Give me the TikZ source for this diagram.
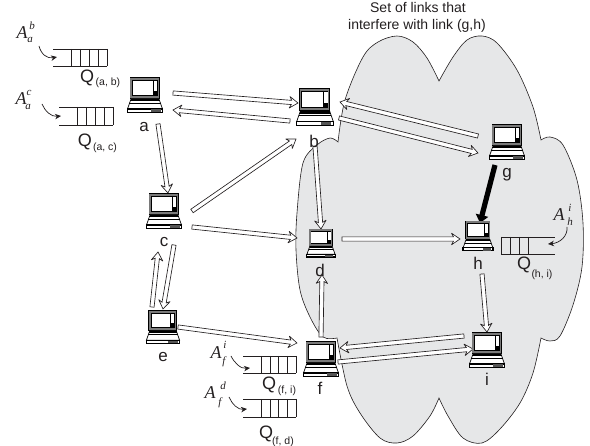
\documentclass[tikz,border=0pt]{standalone}
\usepackage{fontspec}
\setmainfont{Liberation Sans}
\newfontfamily\serifit{Liberation Serif}[ItalicFont=Liberation Serif Italic]
\usetikzlibrary{calc,arrows.meta}
\definecolor{cloudgray}{HTML}{E6E7E8}
\definecolor{framegray}{HTML}{7A7A7A}
\definecolor{inkdark}{HTML}{231F20}
\tikzset{
  x=1pt,y=-1pt,
  nodelabel/.style={inner sep=0pt,font=\fontsize{17}{17}\selectfont,text=inkdark},
  qlabel/.style={inner sep=0pt,font=\fontsize{18}{18}\selectfont,text=inkdark},
  qsub/.style={inner sep=0pt,font=\fontsize{10.5}{11}\selectfont,text=inkdark},
  caption/.style={inner sep=0pt,font=\fontsize{14}{14}\selectfont,text=inkdark},
  aletter/.style={inner sep=0pt,font=\fontsize{18}{18}\serifit\itshape,text=inkdark},
  aidx/.style={inner sep=0pt,font=\fontsize{11}{11}\serifit\itshape,text=inkdark},
  hollowarrow/.style={draw=inkdark,fill=white,line width=.65pt,line join=miter,miter limit=3},
  thickarrow/.style={draw=black,line width=5.2pt,-{Triangle[length=8pt,width=12.5pt]}},
  curvearrow/.style={draw=inkdark,line width=.7pt,-{Stealth[length=6pt,width=5.5pt]}},
  queueline/.style={draw=inkdark,line width=.7pt},
  laptopbox/.style={inner sep=0pt,minimum width=36pt,minimum height=36pt},
  laptop/.pic={
    \fill[black] (-15.5,-18) rectangle (14.5,4);
    \fill[framegray] (-14.7,-17.2) rectangle (13.7,3.2);
    \fill[black] (-13,-15) rectangle (12.8,1);
    \fill[white] (-12,-14) rectangle (7.5,0);
    \fill[white] (8.7,-14) rectangle (12,-4);
    \fill[framegray] (-14.7,2) -- (13.7,2) -- (13.7,3.2) -- (-14.7,3.2) -- cycle;
    \draw[black,line width=.7pt,fill=white] (-14,4) -- (14,4) -- (17.5,14) -- (-17.5,14) -- cycle;
    \fill[black] (-14.3,4) rectangle (14.3,6.3);
    \draw[black,line width=.6pt] (-15.6,8.2) -- (15.6,8.2);
    \draw[black,line width=1.1pt,fill=white] (-17.7,14) rectangle (17.7,17.5);
    \fill[framegray!70!black] (5.5,14.4) rectangle (15.5,17.2);
  }
}
% hollow arrow between two named coordinates
\newcommand{\harrow}[2]{%
  \coordinate (hn) at ($(#2)!6.5pt!(#1)$);
  \coordinate (hb) at ($(#2)!8.5pt!(#1)$);
  \path[hollowarrow]
    ($(#1)!2.1pt!90:(#2)$) -- ($(hn)!2.1pt!90:(#2)$) -- ($(hb)!5.8pt!90:(#2)$) -- (#2)
    -- ($(hb)!5.8pt!-90:(#2)$) -- ($(hn)!2.1pt!-90:(#2)$) -- ($(#1)!2.1pt!-90:(#2)$) -- cycle;
}
% queue: left x, right x, top y, bottom y, list of cell walls
\newcommand{\queuebox}[5]{%
  \draw[queueline] (#1,#3) -- (#2,#3) (#1,#4) -- (#2,#4);
  \foreach \qx in {#5} {\draw[queueline] (\qx,#3) -- (\qx,#4);}
}
\begin{document}
\begin{tikzpicture}
\useasboundingbox (0,0) rectangle (590,446);
% interference region
\draw[fill=cloudgray,draw=inkdark,line width=.6pt]
  plot[smooth,tension=.55] coordinates {(338,142) (345,100) (363,57) (378,42) (397,36) (413,42) (427,58) (439,81)}
  -- plot[smooth,tension=.55] coordinates {(439,81) (453,57) (467,40) (482,36) (497,43) (517,70) (533,107) (541,140)}
  -- plot[smooth,tension=.55] coordinates {(541,140) (550,137) (563,145) (577,180) (583,223) (582,267) (573,305) (560,336) (550,341) (541,338)}
  -- plot[smooth,tension=.55] coordinates {(541,338) (533,373) (520,403) (500,429) (482,443) (463,438) (448,416) (439,398)}
  -- plot[smooth,tension=.55] coordinates {(439,398) (430,416) (413,436) (397,443) (380,438) (360,413) (347,386) (337,338)}
  -- plot[smooth,tension=.55] coordinates {(337,338) (323,337) (310,317) (300,290) (296,250) (297,213) (303,163) (317,145) (330,138) (338,142)}
  -- cycle;
% computers
\foreach \nm/\px/\py/\sc in {a/145/95/1, b/315/107/1.05, c/164/211/1, d/321/243/.8, e/163/327/.95, f/321/359/1, g/507/142/1, h/478/236/.85, i/487/350/1}{
  \node[laptopbox,scale=\sc] (\nm) at (\px,\py) {};
}
% connector ends
\coordinate (s1) at (173,93);  \coordinate (t1) at (298,103);
\coordinate (s2) at (290,121); \coordinate (t2) at (173,110);
\coordinate (s3) at (158,124); \coordinate (t3) at (168,193);
\coordinate (s4) at (192,211); \coordinate (t4) at (296,139);
\coordinate (s5) at (192,227); \coordinate (t5) at (297,238);
\coordinate (s6) at (315,146); \coordinate (t6) at (321,229);
\coordinate (s7) at (321,337); \coordinate (t7) at (322,275);
\coordinate (s8) at (342,239); \coordinate (t8) at (460,239);
\coordinate (s9) at (152,307); \coordinate (t9) at (158,252);
\coordinate (s10) at (174,245); \coordinate (t10) at (163,309);
\coordinate (s11) at (178,327); \coordinate (t11) at (297,343);
\coordinate (s12) at (339,118); \coordinate (t12) at (478,153);
\coordinate (s13) at (478,136); \coordinate (t13) at (340,102);
\coordinate (s14) at (482,274); \coordinate (t14) at (487,332);
\coordinate (s15) at (464,336); \coordinate (t15) at (340,348);
\coordinate (s16) at (338,362); \coordinate (t16) at (473,349);
\coordinate (s17) at (495,165); \coordinate (t17) at (480,223);
\foreach \k in {1,...,16}{\harrow{s\k}{t\k}}
\draw[thickarrow] (s17) -- (t17);
\foreach \nm/\px/\py/\sc in {a/145/95/1, b/315/107/1.05, c/164/211/1, d/321/243/.8, e/163/327/.95, f/321/359/1, g/507/142/1, h/478/236/.85, i/487/350/1}{
  \pic[scale=\sc] at (\nm) {laptop};
}
% computer names
\node[nodelabel] (la) at (144,127) {a};
\node[nodelabel] (lb) at (314,141) {b};
\node[nodelabel] (lc) at (164,242) {c};
\node[nodelabel] (ld) at (320,270) {d};
\node[nodelabel] (le) at (163,357) {e};
\node[nodelabel] (lf) at (320,388) {f};
\node[nodelabel] (lg) at (507,175) {g};
\node[nodelabel] (lh) at (478,263) {h};
\node[nodelabel] (li) at (487,379) {i};
% caption
\node[caption] (cap1) at (418,7.5) {Set of links that};
\node[caption] (cap2) at (417,26) {interfere with link (g,h)};
% queues
\queuebox{53}{107}{49}{66}{71,80,89,98,107}
\queuebox{59}{113}{107}{125}{77,86,95,104,113}
\queuebox{243}{296}{356}{373}{261,270,278,287,296}
\queuebox{243}{296}{399}{417}{261,270,278,287,296}
\queuebox{501}{555}{237}{254}{501,510,519,528}
% queue names
\node[qlabel] (qab) at (87,78) {Q};  \node[qsub] (qabs) at (108,83) {(a, b)};
\node[qlabel] (qac) at (85,142) {Q}; \node[qsub] (qacs) at (105,148) {(a, c)};
\node[qlabel] (qfi) at (269,385) {Q}; \node[qsub] (qfis) at (287,391) {(f, i)};
\node[qlabel] (qfd) at (266,434) {Q}; \node[qsub] (qfds) at (283,442) {(f, d)};
\node[qlabel] (qhi) at (524,265) {Q}; \node[qsub] (qhis) at (542,275) {(h, i)};
% arrival labels
\node[aletter] (A1) at (22,33) {A};  \node[aidx] (A1u) at (32,26) {b};  \node[aidx] (A1d) at (30,40) {a};
\node[aletter] (A2) at (21,99) {A};  \node[aidx] (A2u) at (29,93) {c};  \node[aidx] (A2d) at (28,107) {a};
\node[aletter] (A3) at (216,353) {A}; \node[aidx] (A3u) at (225,345) {i}; \node[aidx] (A3d) at (224,362) {f};
\node[aletter] (A4) at (210,393) {A}; \node[aidx] (A4u) at (223,386) {d}; \node[aidx] (A4d) at (220,403) {f};
\node[aletter] (A5) at (559,215) {A}; \node[aidx] (A5u) at (570,208) {i}; \node[aidx] (A5d) at (570,222) {h};
% arrival arrows
\coordinate (c1s) at (39,46);  \coordinate (c1t) at (57,57);
\coordinate (c2s) at (42,104); \coordinate (c2t) at (61,116);
\coordinate (c3s) at (231,356); \coordinate (c3t) at (250,368);
\coordinate (c4s) at (229,397); \coordinate (c4t) at (247,409);
\coordinate (c5s) at (567,227); \coordinate (c5t) at (548,244);
\draw[curvearrow] (c1s) .. controls (41,54) and (47,59) .. (c1t);
\draw[curvearrow] (c2s) .. controls (45,111) and (51,117) .. (c2t);
\draw[curvearrow] (c3s) .. controls (234,362) and (240,369) .. (c3t);
\draw[curvearrow] (c4s) .. controls (232,404) and (238,410) .. (c4t);
\draw[curvearrow] (c5s) .. controls (568,236) and (560,243) .. (c5t);
\end{tikzpicture}
\end{document}
